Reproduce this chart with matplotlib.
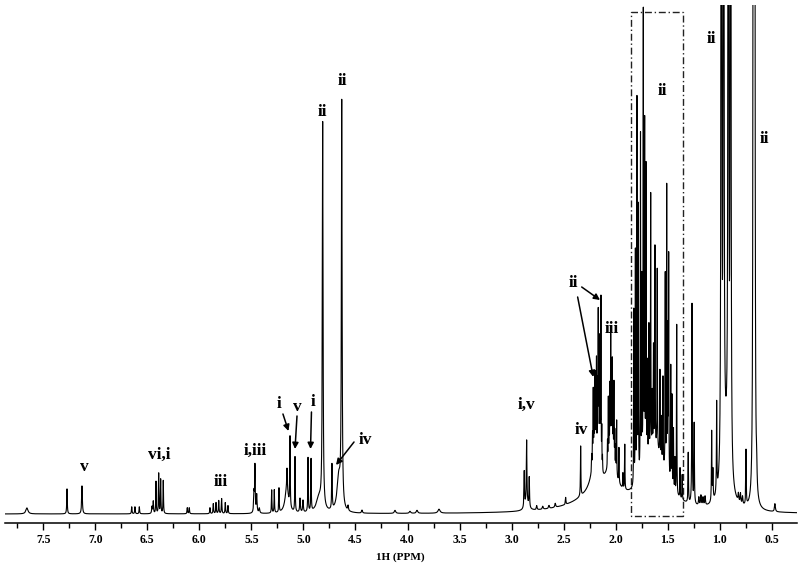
import numpy as np
import matplotlib
matplotlib.use("Agg")
import matplotlib.pyplot as plt
from matplotlib.patches import Rectangle
from matplotlib.ticker import MultipleLocator, FormatStrFormatter

# peak table: shift (ppm), height (above baseline), half width (ppm)
peak_ppm = [
    7.657, 7.272, 7.128,
    6.650, 6.619, 6.577, 6.455, 6.443, 6.417, 6.391, 6.372, 6.347, 6.116, 6.097,
    5.898, 5.866, 5.840, 5.814, 5.786, 5.751, 5.725,
    5.475, 5.466, 5.449, 5.424, 5.305, 5.280, 5.235,
    5.160, 5.158, 5.129, 5.081, 5.033, 5.004, 4.956, 4.927,
    4.850, 4.815, 4.726, 4.660, 4.632, 4.571, 4.437, 4.120, 3.976, 3.908, 3.697,
    2.878, 2.855, 2.830, 2.855, 2.758, 2.700, 2.640, 2.580, 2.480, 2.336,
    2.150, 2.200, 2.040,
    2.230, 2.222, 2.215, 2.207, 2.199, 2.191, 2.184, 2.175, 2.167, 2.161, 2.155,
    2.148, 2.141, 2.133, 2.126,
    2.078, 2.070, 2.062, 2.055, 2.047, 2.039, 2.032, 2.024, 2.016, 2.008, 1.999,
    1.990, 1.968, 1.930, 1.912,
    1.620, 1.825, 1.810, 1.795, 1.782, 1.761, 1.748, 1.734, 1.721, 1.708, 1.695,
    1.680, 1.663, 1.648, 1.636, 1.622, 1.600, 1.574, 1.560, 1.545, 1.523, 1.509,
    1.498, 1.490, 1.470, 1.458, 1.444, 1.430, 1.413, 1.381, 1.360,
    1.302, 1.266, 1.245, 1.200, 1.180, 1.160, 1.140, 1.077, 1.065, 1.029,
    0.984, 0.962, 0.940, 0.917, 0.895, 0.820, 0.800, 0.780, 0.747,
    0.676, 0.664, 0.645, 0.469,
]
peak_height = [
    6, 25, 28,
    7, 7, 7, 7, 12, 32, 40, 34, 33, 6, 6,
    6, 10, 11, 13, 15, 11, 8,
    20, 46, 18, 5, 23, 23, 24,
    25, 20, 70, 55, 14, 12, 54, 52,
    15, 385, 45, 35, 402, 5, 3, 3, 2, 3, 4,
    36, 62, 30, 8, 4, 3, 3, 4, 7, 50,
    20, 30, 30,
    15, 30, 70, 50, 80, 60, 95, 75, 145, 85, 120,
    70, 170, 40, 15,
    25, 65, 40, 70, 118, 60, 95, 50, 80, 35, 25,
    55, 35, 15, 45,
    60, 175, 230, 380, 270, 340, 190, 455, 340, 295, 95,
    130, 258, 55, 100, 200, 180, 85, 42, 87, 195, 285,
    140, 220, 117, 90, 60, 33, 170, 30, 25,
    50, 200, 80, 8, 10, 8, 9, 70, 30, 90,
    2500, 2500, 55, 2500, 2500, 8, 10, 8, 55,
    2500, 2500, 20, 8,
]
peak_width = [
    0.012, 0.003, 0.004,
    0.003, 0.003, 0.003, 0.004, 0.003, 0.0025, 0.0025, 0.0025, 0.0025, 0.003, 0.003,
    0.003, 0.003, 0.003, 0.003, 0.003, 0.003, 0.003,
    0.004, 0.003, 0.004, 0.005, 0.0025, 0.0025, 0.0025,
    0.02, 0.003, 0.0025, 0.0025, 0.004, 0.004, 0.0025, 0.0025,
    0.03, 0.004, 0.003, 0.02, 0.004, 0.004, 0.005, 0.008, 0.008, 0.008, 0.012,
    0.003, 0.003, 0.003, 0.02, 0.004, 0.005, 0.005, 0.005, 0.003, 0.0025,
    0.25, 0.04, 0.05,
    0.0018, 0.0018, 0.0018, 0.0018, 0.0018, 0.0018, 0.0018, 0.0018, 0.0018, 0.0018, 0.0018,
    0.0018, 0.0018, 0.0018, 0.0018,
    0.0018, 0.0018, 0.0018, 0.0018, 0.0018, 0.0018, 0.0018, 0.0018, 0.0018, 0.0018, 0.0018,
    0.0018, 0.002, 0.002, 0.002,
    0.12, 0.0018, 0.0018, 0.0018, 0.0018, 0.0018, 0.0018, 0.0018, 0.0018, 0.0018, 0.0018,
    0.0018, 0.0018, 0.0018, 0.0018, 0.0018, 0.0018, 0.0018, 0.0018, 0.0018, 0.0018, 0.0018,
    0.0018, 0.0018, 0.0018, 0.0018, 0.0018, 0.0018, 0.0018, 0.002, 0.002,
    0.0025, 0.0025, 0.0025, 0.004, 0.004, 0.004, 0.004, 0.0025, 0.003, 0.0025,
    0.0022, 0.0022, 0.04, 0.0022, 0.0022, 0.004, 0.004, 0.004, 0.0025,
    0.0022, 0.0022, 0.004, 0.005,
]

# boxed region (ppm) and assignment labels
box_ppm = [1.852, 1.350]
labels = ["v", "vi,i", "iii", "i,iii", "i", "v", "i", "ii", "ii", "iv",
          "i,v", "iv", "ii", "iii", "ii", "ii", "ii"]
label_ppm = [7.109, 6.388, 5.792, 5.466, 5.235, 5.062, 4.908, 4.817, 4.630, 4.409,
             2.852, 2.333, 2.410, 2.035, 1.554, 1.083, 0.574]
label_h = [47, 59, 32, 63, 110, 107, 112, 402, 433, 74,
           109, 84, 231, 185, 423, 475, 375]
# arrows: (start ppm, start h, end ppm, end h)
arrows = [
    (5.197, 100, 5.144, 83),
    (5.062, 98, 5.081, 65),
    (4.923, 102, 4.932, 65),
    (4.514, 72, 4.687, 49),
    (2.365, 217, 2.215, 137),
    (2.326, 227, 2.150, 214),
]

ppm = np.linspace(0.25, 7.9, 40000)
spec = np.zeros_like(ppm)
for c, h, w in zip(peak_ppm, peak_height, peak_width):
    spec += h * w**2 / ((ppm - c)**2 + w**2)

serif = "Liberation Serif"
fig = plt.figure(figsize=(8, 5.67), dpi=100)
ax = fig.add_axes([5/800, 44/567, 792/800, 518/567])
ax.plot(ppm, spec, color="black", lw=0.8)

ax.add_patch(Rectangle((box_ppm[1], -1.7), box_ppm[0] - box_ppm[1], 504,
                       fill=False, ec="#222222", lw=1.0, ls=(0, (5, 2, 1, 2))))

for t, x, y in zip(labels, label_ppm, label_h):
    ax.text(x, y, t, ha="center", va="center", fontsize=12.5,
            fontweight="bold", family=serif)
for x0, y0, x1, y1 in arrows:
    ax.annotate("", xy=(x1, y1), xytext=(x0, y0),
                arrowprops=dict(arrowstyle="-|>", lw=1.1, color="black",
                                mutation_scale=9, shrinkA=0, shrinkB=0))

ax.set_xlim(7.868, 0.257)
ax.set_ylim(-9, 509)
for s in ["top", "left", "right"]:
    ax.spines[s].set_visible(False)
ax.spines["bottom"].set_linewidth(1.1)
ax.set_yticks([])
ax.xaxis.set_major_locator(MultipleLocator(0.5))
ax.xaxis.set_minor_locator(MultipleLocator(0.25))
ax.xaxis.set_major_formatter(FormatStrFormatter("%.1f"))
ax.tick_params(axis="x", which="major", length=5, width=1.0, pad=3)
ax.tick_params(axis="x", which="minor", length=3.5, width=1.0)
for lab in ax.get_xticklabels():
    lab.set_family(serif)
    lab.set_fontweight("bold")
    lab.set_fontsize(8.5)
fig.text(0.5, 1 - 557/567, "1H (PPM)", ha="center", va="center",
         fontsize=8, fontweight="bold", family=serif)

fig.savefig("out.png", dpi=100)
